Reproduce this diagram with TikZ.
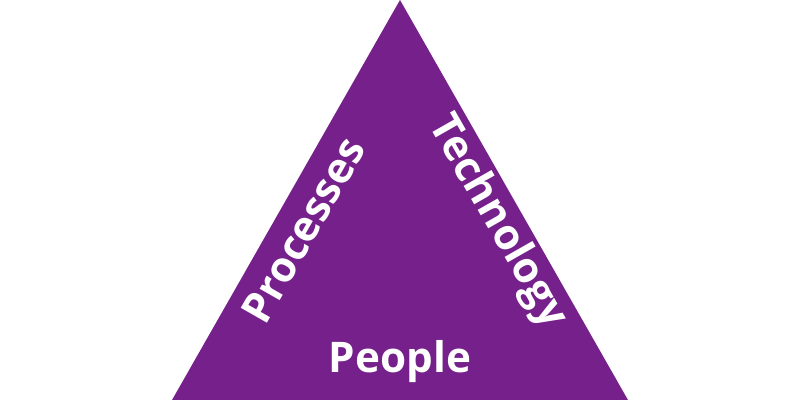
\documentclass[tikz,border=0pt]{standalone}
\usepackage{fontspec}
\setmainfont{Open Sans}
\usepackage{tikz}
\usetikzlibrary{positioning}
\definecolor{segitigaungu}{RGB}{117, 32, 139}

\begin{document}
\begin{tikzpicture}[
    x=0.025cm, y=-0.025cm,
    sisi/.style={text=white, font=\fontsize{30}{30}\selectfont\bfseries,
                 inner sep=0pt}
  ]
    \useasboundingbox (0,0) rectangle (800,400);
    % Segitiga utama
    \coordinate (puncak) at (400,0);
    \coordinate (kiri) at (172,400);
    \coordinate (kanan) at (628,400);
    \fill[segitigaungu] (puncak) -- (kanan) -- (kiri) -- cycle;
    % Label tiap sisi
    \node[sisi, rotate=60.3]  (proses)    at (303,230) {Processes};
    \node[sisi, rotate=-60.3] (teknologi) at (497,222) {Technology};
    \node[sisi]               (orang)     at (400,362) {People};
  \end{tikzpicture}
\end{document}
